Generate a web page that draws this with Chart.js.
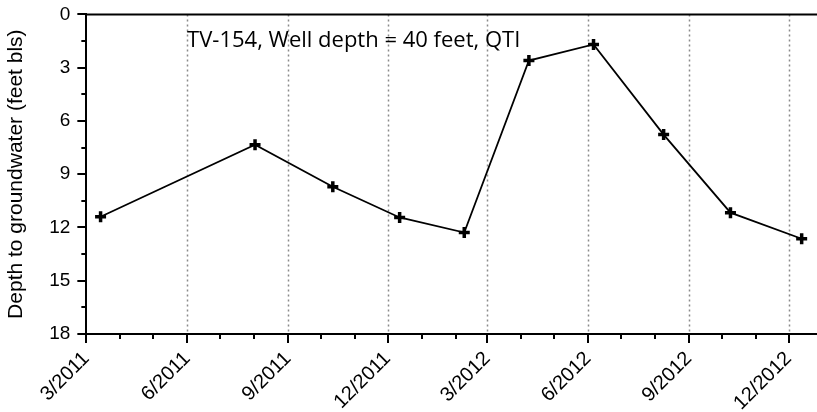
<!DOCTYPE html>
<html>
<head>
<meta charset="utf-8">
<script src="https://cdn.jsdelivr.net/npm/chart.js@4"></script>
<style>
  html, body { margin: 0; padding: 0; background: #fff; overflow: hidden; }
  #wrap { width: 826px; height: 441px; margin-top: -13px; position: relative; }
</style>
</head>
<body>
<div id="wrap"><canvas id="wellChart"></canvas></div>
<script>
// Measurement dates and depth to groundwater (feet below land surface)
const sampleDates = ['2011-03-14', '2011-08-02', '2011-10-12', '2011-12-12', '2012-02-09',
                     '2012-04-08', '2012-06-06', '2012-08-09', '2012-10-09', '2012-12-13'];
const depthFeet = [11.4, 7.34, 9.71, 11.44, 12.29, 2.6, 1.69, 6.77, 11.17, 12.64];
const yTickLabels = [0, 3, 6, 9, 12, 15, 18];
const chartTitle = 'TV-154, Well depth = 40 feet, QTI';

const xStart = Date.UTC(2011, 2, 1);
const xEnd = Date.UTC(2012, 11, 27);

function isQuarter(ts) {
  const m = new Date(ts).getUTCMonth();
  return (m - 2) % 3 === 0;
}
function isMajorY(v) {
  return yTickLabels.some(t => Math.abs(t - v) < 1e-6);
}

// dotted quarterly grid lines, drawn under the line
const dottedGrid = {
  id: 'dottedGrid',
  beforeDatasetsDraw(chart) {
    const ctx = chart.ctx;
    const area = chart.chartArea;
    const xs = chart.scales.x;
    ctx.save();
    ctx.strokeStyle = '#8a8a8a';
    ctx.lineWidth = 1.5;
    ctx.setLineDash([2, 3]);
    xs.ticks.forEach(t => {
      if (!isQuarter(t.value) || t.value === xStart) return;
      const px = Math.round(xs.getPixelForValue(t.value)) + 0.5;
      ctx.beginPath();
      ctx.moveTo(px, area.top);
      ctx.lineTo(px, area.bottom);
      ctx.stroke();
    });
    ctx.restore();
  }
};

// Tick marks: long at labelled ticks, short between them
const tickMarks = {
  id: 'tickMarks',
  afterDraw(chart) {
    const ctx = chart.ctx;
    const area = chart.chartArea;
    const xs = chart.scales.x;
    const ys = chart.scales.y;
    ctx.save();
    ctx.strokeStyle = '#000';
    ctx.lineWidth = 2;
    xs.ticks.forEach(t => {
      const px = Math.round(xs.getPixelForValue(t.value));
      const len = isQuarter(t.value) ? 9 : 5;
      ctx.beginPath();
      ctx.moveTo(px, area.bottom);
      ctx.lineTo(px, area.bottom + len);
      ctx.stroke();
    });
    ys.ticks.forEach(t => {
      const py = Math.round(ys.getPixelForValue(t.value));
      const len = isMajorY(t.value) ? 9 : 5;
      ctx.beginPath();
      ctx.moveTo(area.left, py);
      ctx.lineTo(area.left - len, py);
      ctx.stroke();
    });
    // top frame line
    ctx.beginPath();
    ctx.moveTo(area.left, area.top);
    ctx.lineTo(area.right, area.top);
    ctx.stroke();
    // title inside the plot
    ctx.fillStyle = '#000';
    ctx.font = '22px "Open Sans"';
    ctx.textBaseline = 'middle';
    ctx.textAlign = 'left';
    ctx.fillText(chartTitle, xs.getPixelForValue(Date.UTC(2011, 5, 1)), ys.getPixelForValue(1.5));
    ctx.restore();
  }
};

const ctx = document.getElementById('wellChart').getContext('2d');
const wellChart = new Chart(ctx, {
  type: 'line',
  data: {
    datasets: [{
      data: sampleDates.map((d, i) => ({ x: new Date(d).getTime(), y: depthFeet[i] })),
      borderColor: '#000',
      borderWidth: 1.8,
      tension: 0,
      pointStyle: 'cross',
      pointRadius: 5.5,
      pointBorderWidth: 3.5,
      pointBorderColor: '#000',
      pointBackgroundColor: '#000',
      clip: false
    }]
  },
  options: {
    responsive: true,
    maintainAspectRatio: false,
    animation: false,
    layout: { padding: { top: 3, right: 0, left: 4, bottom: 0 } },
    plugins: {
      legend: { display: false },
      tooltip: { enabled: false }
    },
    scales: {
      x: {
        type: 'linear',
        min: xStart,
        max: xEnd,
        afterBuildTicks(scale) {
          const ticks = [];
          for (let i = 0; i < 22; i++) {
            ticks.push({ value: Date.UTC(2011, 2 + i, 1) });
          }
          scale.ticks = ticks;
        },
        border: { display: true, color: '#000', width: 2 },
        grid: { display: false, drawTicks: false },
        ticks: {
          autoSkip: false,
          minRotation: 45,
          maxRotation: 45,
          padding: 13,
          color: '#000',
          font: { family: '"Liberation Sans", Arial', size: 20 },
          callback: v => {
            if (!isQuarter(v)) return '';
            const d = new Date(v);
            return (d.getUTCMonth() + 1) + '/' + d.getUTCFullYear();
          }
        }
      },
      y: {
        reverse: true,
        min: 0,
        max: 18,
        border: { display: true, color: '#000', width: 2 },
        grid: { display: false, drawTicks: false },
        ticks: {
          stepSize: 1.5,
          padding: 16,
          color: '#000',
          font: { family: '"Liberation Sans", Arial', size: 19 },
          callback: v => isMajorY(v) ? String(Math.round(v)) : ''
        },
        title: {
          display: true,
          text: 'Depth to groundwater (feet bls)',
          color: '#000',
          font: { family: '"Liberation Sans", Arial', size: 21 },
          padding: { top: 0, bottom: 4 }
        }
      }
    }
  },
  plugins: [dottedGrid, tickMarks]
});
</script>
</body>
</html>
